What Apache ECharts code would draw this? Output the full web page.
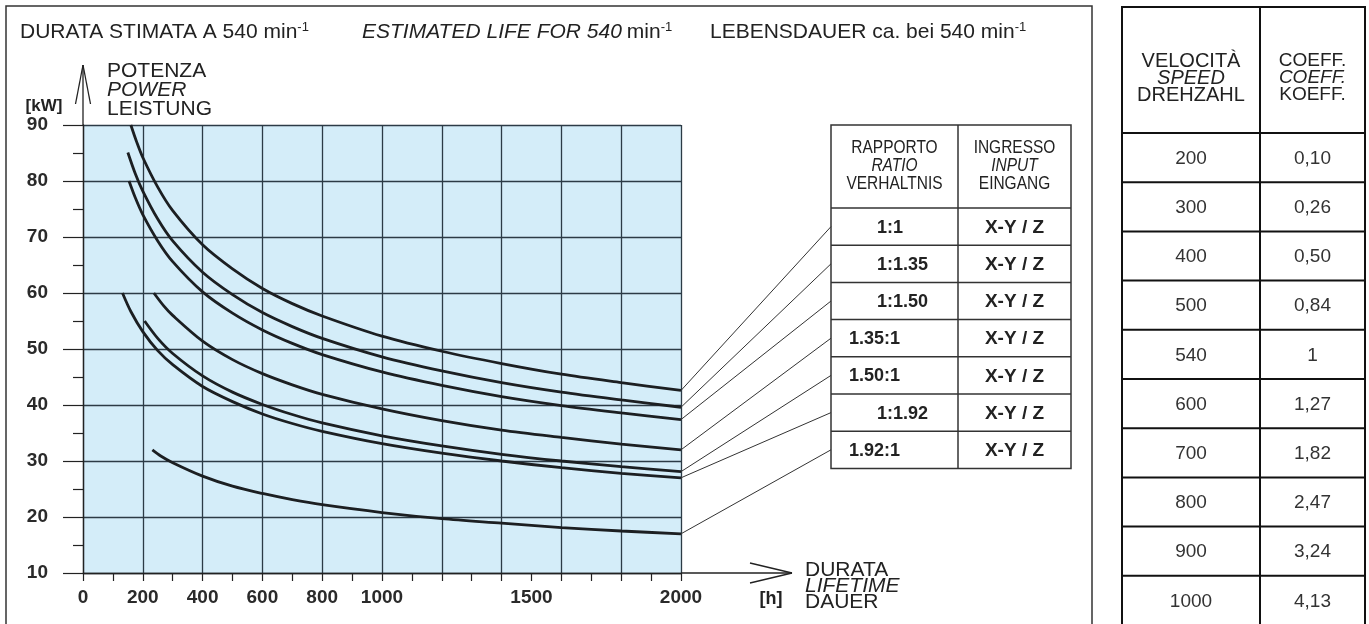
<!DOCTYPE html>
<html>
<head>
<meta charset="utf-8">
<script src="https://cdn.jsdelivr.net/npm/echarts@6/dist/echarts.min.js"></script>
<style>
html,body{margin:0;padding:0;background:#fff;}
#main{width:1369px;height:624px;}
</style>
</head>
<body>
<div id="main"></div>
<script>
// ---------- DATA ----------
const xTickLabels = [0, 200, 400, 600, 800, 1000, 1500, 2000];
const ratios = ['1:1', '1:1.35', '1:1.50', '1.35:1', '1.50:1', '1:1.92', '1.92:1'];
const inputs = ['X-Y / Z', 'X-Y / Z', 'X-Y / Z', 'X-Y / Z', 'X-Y / Z', 'X-Y / Z', 'X-Y / Z'];

const hours_1_1   = [160, 180, 200, 250, 300, 400, 500, 600, 700, 800, 1000, 1200, 1400, 1600, 1800, 2000];
const kw_1_1      = [90, 86.9, 84.2, 78.9, 74.7, 68.6, 64.3, 60.8, 58.1, 55.9, 52.3, 49.6, 47.4, 45.5, 44.0, 42.6];
const hours_1_135 = [150, 175, 200, 250, 300, 400, 500, 600, 700, 800, 1000, 1200, 1400, 1600, 1800, 2000];
const kw_1_135    = [85.1, 81.3, 78.2, 73.2, 69.3, 63.7, 59.7, 56.5, 54.0, 51.9, 48.6, 46.1, 44.0, 42.3, 40.9, 39.6];
const hours_1_150 = [154, 175, 200, 250, 300, 400, 500, 600, 700, 800, 1000, 1200, 1400, 1600, 1800, 2000];
const kw_1_150    = [80, 77.0, 74.0, 69.3, 65.6, 60.2, 56.4, 53.4, 51.0, 49.0, 45.9, 43.5, 41.5, 39.9, 38.6, 37.4];
const hours_135_1 = [237, 270, 300, 400, 500, 600, 700, 800, 1000, 1200, 1400, 1600, 1800, 2000];
const kw_135_1    = [60, 57.7, 56.0, 51.4, 48.1, 45.6, 43.6, 41.9, 39.3, 37.2, 35.5, 34.2, 33.0, 32.0];
const hours_150_1 = [206, 250, 300, 400, 500, 600, 700, 800, 1000, 1200, 1400, 1600, 1800, 2000];
const kw_150_1    = [55, 51.9, 49.2, 45.2, 42.3, 40.1, 38.3, 36.8, 34.5, 32.7, 31.2, 30.0, 29.0, 28.1];
const hours_1_192 = [132, 160, 200, 250, 300, 400, 500, 600, 700, 800, 1000, 1200, 1400, 1600, 1800, 2000];
const kw_1_192    = [60, 56.7, 53.1, 49.7, 47.2, 43.3, 40.6, 38.4, 36.7, 35.3, 33.1, 31.4, 30.0, 28.8, 27.8, 27.0];
const hours_192_1 = [232, 260, 300, 400, 500, 600, 700, 800, 1000, 1200, 1400, 1600, 1800, 2000];
const kw_192_1    = [32, 30.9, 29.7, 27.3, 25.5, 24.2, 23.1, 22.2, 20.8, 19.7, 18.9, 18.1, 17.5, 17.0];

const speeds = ['200', '300', '400', '500', '540', '600', '700', '800', '900', '1000'];
const coeffs = ['0,10', '0,26', '0,50', '0,84', '1', '1,27', '1,82', '2,47', '3,24', '4,13'];

// ---------- CHART ----------
const curves = [
  [hours_1_1, kw_1_1], [hours_1_135, kw_1_135], [hours_1_150, kw_1_150],
  [hours_135_1, kw_135_1], [hours_150_1, kw_150_1], [hours_1_192, kw_1_192],
  [hours_192_1, kw_192_1]
];
const FONT = "'Liberation Sans', Arial, Helvetica, sans-serif";
const INK = '#1c1f22';
const GRIDC = '#2c3b46';

const chart = echarts.init(document.getElementById('main'), null, {renderer: 'canvas'});

const series = curves.map((c, i) => ({
  type: 'line',
  name: ratios[i],
  data: c[0].map((h, j) => [h, c[1][j]]),
  smooth: 0.3,
  showSymbol: false,
  symbol: 'none',
  silent: true,
  z: 5,
  lineStyle: {color: INK, width: 2.8}
}));

chart.setOption({
  animation: false,
  backgroundColor: '#ffffff',
  grid: {left: 83, top: 125, width: 598, height: 448, show: true,
         backgroundColor: '#d4edf9', borderWidth: 0},
  xAxis: {
    type: 'value', min: 0, max: 2000, interval: 200,
    axisLine: {show: true, lineStyle: {color: '#222', width: 1.3}},
    axisTick: {show: true, length: 8, lineStyle: {color: '#222', width: 1.2}},
    minorTick: {show: true, splitNumber: 2, length: 8, lineStyle: {color: '#222', width: 1.2}},
    splitLine: {show: true, lineStyle: {color: GRIDC, width: 1.3}},
    axisLabel: {customValues: xTickLabels, formatter: v => String(v), fontFamily: FONT,
                fontWeight: 'bold', fontSize: 19, color: '#2a2a2a', margin: 15}
  },
  yAxis: {
    type: 'value', min: 10, max: 90, interval: 10,
    axisLine: {show: true, lineStyle: {color: '#222', width: 1.3}},
    axisTick: {show: true, length: 20, lineStyle: {color: '#222', width: 1.2}},
    minorTick: {show: true, splitNumber: 2, length: 10, lineStyle: {color: '#222', width: 1.2}},
    splitLine: {show: true, lineStyle: {color: GRIDC, width: 1.3}},
    axisLabel: {fontFamily: FONT, fontWeight: 'bold', fontSize: 19, color: '#2a2a2a', margin: 35}
  },
  series: series
});

// ---------- DECORATIONS (tables, titles, arrows, leaders) ----------
const g = [];
const line = (x1, y1, x2, y2, w, c) => g.push({type: 'line', silent: true, z: 10,
  shape: {x1, y1, x2, y2}, style: {stroke: c || '#222', lineWidth: w || 1}});
const text = (x, y, t, o) => g.push({type: 'text', silent: true, z: 11, x, y,
  style: Object.assign({text: t, fill: '#222', fontFamily: FONT, fontSize: 18,
    align: 'left', verticalAlign: 'middle'}, o || {})});

// left panel border
g.push({type: 'rect', silent: true, z: 1, shape: {x: 6, y: 6, width: 1086, height: 660},
  style: {fill: 'none', stroke: '#333', lineWidth: 1.5}});

// titles with superscripts
const supRich = {
  n: {fontFamily: FONT, fontSize: 21, fill: '#222'},
  i: {fontFamily: FONT, fontSize: 21, fill: '#222', fontStyle: 'italic'},
  s: {fontFamily: FONT, fontSize: 13, fill: '#222', verticalAlign: 'top', padding: [0, 0, 9, 0]}
};
text(20, 32, '{n|DURATA STIMATA A 540 min}{s|-1}', {rich: supRich});
text(362, 32, '{i|ESTIMATED LIFE FOR 540} {n|min}{s|-1}', {rich: supRich});
text(710, 32, '{n|LEBENSDAUER ca. bei 540 min}{s|-1}', {rich: supRich});

// y axis title
text(107, 71, 'POTENZA', {fontSize: 21});
text(107, 90, 'POWER', {fontSize: 21, fontStyle: 'italic'});
text(107, 109, 'LEISTUNG', {fontSize: 21});
text(44, 106, '[kW]', {fontSize: 17, fontWeight: 'bold', align: 'center'});

// y axis arrow
const axX = chart.convertToPixel({gridIndex: 0}, [0, 90]);
line(axX[0], axX[1], axX[0], 65, 1.3);
line(axX[0] - 7.5, 104, axX[0], 65, 1.3);
line(axX[0] + 7.5, 104, axX[0], 65, 1.3);

// x axis arrow
const axY = chart.convertToPixel({gridIndex: 0}, [2000, 10]);
line(axY[0], axY[1], 792, axY[1], 1.3);
line(750, axY[1] - 10, 792, axY[1], 1.3);
line(750, axY[1] + 10, 792, axY[1], 1.3);

// x axis title
text(771, 599, '[h]', {fontSize: 18, fontWeight: 'bold', align: 'center'});
text(805, 570, 'DURATA', {fontSize: 21});
text(805, 586, 'LIFETIME', {fontSize: 21, fontStyle: 'italic'});
text(805, 602, 'DAUER', {fontSize: 21});

// ratio table
const tL = 831, tM = 958, tR = 1071, tTop = 125, tHead = 208, rowH = 37.2;
const tBot = tHead + rowH * ratios.length;
g.push({type: 'rect', silent: true, z: 10, shape: {x: tL, y: tTop, width: tR - tL, height: tBot - tTop},
  style: {fill: '#fff', stroke: '#333', lineWidth: 1.5}});
line(tM, tTop, tM, tBot, 1.5, '#333');
line(tL, tHead, tR, tHead, 1.5, '#333');
const cx1 = (tL + tM) / 2, cx2 = (tM + tR) / 2;
const hdr = (x, y, t, it) => g.push({type: 'text', silent: true, z: 11, x, y, scaleX: 0.86,
  style: {text: t, fill: '#222', fontFamily: FONT, fontSize: 18, align: 'center',
          verticalAlign: 'middle', fontStyle: it ? 'italic' : 'normal'}});
hdr(cx1, 148, 'RAPPORTO'); hdr(cx1, 166, 'RATIO', true); hdr(cx1, 184, 'VERHALTNIS');
hdr(cx2, 148, 'INGRESSO'); hdr(cx2, 166, 'INPUT', true); hdr(cx2, 184, 'EINGANG');
ratios.forEach((r, i) => {
  const yTop = tHead + rowH * i, yMid = yTop + rowH / 2;
  if (i > 0) line(tL, yTop, tR, yTop, 1.5, '#333');
  text(r.startsWith('1:') ? 877 : 849, yMid + 1, r, {fontSize: 18, fontWeight: 'bold'});
  text(cx2, yMid + 1, inputs[i], {fontSize: 19, fontWeight: 'bold', align: 'center'});
  // leader line from curve end to table row
  const c = curves[i];
  const p = chart.convertToPixel({gridIndex: 0}, [c[0][c[0].length - 1], c[1][c[1].length - 1]]);
  line(p[0], p[1], tL, yMid, 1, '#333');
});

// speed / coefficient table
const sL = 1122, sM = 1260, sR = 1365, sTop = 7, sHead = 133, sRow = 49.2;
g.push({type: 'rect', silent: true, z: 10, shape: {x: sL, y: sTop, width: sR - sL, height: 700},
  style: {fill: '#fff', stroke: '#111', lineWidth: 2}});
line(sM, sTop, sM, 700, 2, '#111');
line(sL, sHead, sR, sHead, 2, '#111');
const sx1 = (sL + sM) / 2, sx2 = (sM + sR) / 2;
text(sx1, 61, 'VELOCITÀ', {fontSize: 20, align: 'center'});
text(sx1, 78, 'SPEED', {fontSize: 20, align: 'center', fontStyle: 'italic'});
text(sx1, 95, 'DREHZAHL', {fontSize: 20, align: 'center'});
text(sx2, 61, 'COEFF.', {fontSize: 19, align: 'center'});
text(sx2, 78, 'COEFF.', {fontSize: 19, align: 'center', fontStyle: 'italic'});
text(sx2, 95, 'KOEFF.', {fontSize: 19, align: 'center'});
speeds.forEach((s, i) => {
  const yTop = sHead + sRow * i, yMid = yTop + sRow / 2;
  if (i > 0) line(sL, yTop, sR, yTop, 2, '#111');
  text(sx1, yMid + 1, s, {fontSize: 19, align: 'center', fill: '#333'});
  text(sx2, yMid + 1, coeffs[i], {fontSize: 19, align: 'center', fill: '#333'});
});

chart.setOption({graphic: g});
</script>
</body>
</html>
